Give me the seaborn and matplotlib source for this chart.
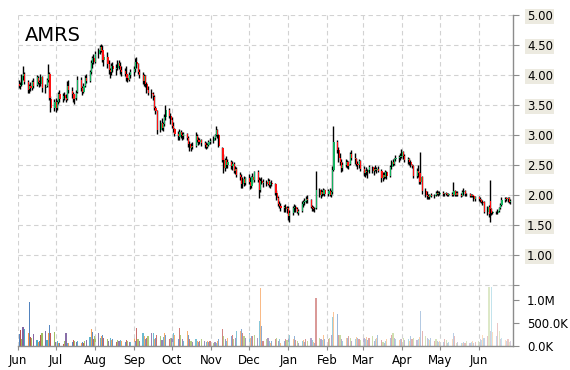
import numpy as np
import pandas as pd
import matplotlib
matplotlib.use("Agg")
import matplotlib.pyplot as plt
import matplotlib.dates as mdates
from matplotlib.ticker import FixedLocator, FixedFormatter
import seaborn as sns

ticker = "AMRS"

# daily OHLC (trading days from 2014-06-02)
opens = [
    # Jun
    3.85,3.82,3.84,3.98,4.02,3.88,3.76,3.82,3.78,3.88,3.84,3.95,3.88,3.85,3.96,3.78,3.82,3.92,4.02,3.60,3.45,
    # Jul
    3.55,3.45,3.55,3.68,3.60,3.66,3.62,3.60,3.82,3.74,3.68,3.60,3.62,3.72,3.92,3.78,3.72,3.82,3.95,3.90,4.05,4.20,4.28,
    # Aug
    4.22,4.35,4.40,4.46,4.42,4.25,4.30,4.18,4.08,4.05,4.15,4.10,4.12,4.20,4.15,4.08,4.06,4.02,3.95,3.92,4.00,
    # Sep
    4.05,4.10,4.22,4.18,4.05,4.00,3.90,3.98,3.85,3.75,3.70,3.68,3.64,3.45,3.40,3.08,3.20,3.12,3.18,3.30,3.42,3.32,
    # Oct
    3.25,3.15,3.10,3.02,2.96,3.05,3.00,2.98,3.02,2.95,2.85,2.78,2.82,2.82,2.98,2.92,2.88,2.92,2.86,2.84,2.80,2.84,2.88,
    # Nov
    2.90,2.95,3.00,3.08,3.00,2.78,2.58,2.45,2.58,2.50,2.55,2.48,2.52,2.40,2.44,2.34,2.30,2.18,2.26,2.20,
    # Dec
    2.28,2.22,2.15,2.30,2.25,2.38,2.25,2.08,2.24,2.20,2.22,2.18,2.24,2.16,2.20,2.18,2.04,1.95,1.85,1.82,1.78,1.80,1.76,
    # Jan
    1.78,1.65,1.70,1.78,1.80,1.76,1.70,1.74,1.85,1.88,1.90,1.94,1.92,1.80,1.78,1.76,1.78,2.08,2.00,2.05,2.02,2.08,
    # Feb
    2.02,2.06,2.00,2.05,2.42,2.88,2.75,2.62,2.55,2.45,2.50,2.55,2.48,2.52,2.68,2.62,2.60,2.52,2.50,2.56,
    # Mar
    2.44,2.36,2.40,2.38,2.42,2.46,2.40,2.44,2.42,2.44,2.40,2.28,2.34,2.30,2.38,2.32,2.46,2.55,2.52,2.60,2.62,2.64,
    # Apr
    2.65,2.72,2.65,2.58,2.60,2.55,2.50,2.48,2.32,2.40,2.36,2.22,2.30,2.06,2.00,1.98,1.96,2.00,1.98,2.00,2.04,2.02,
    # May
    2.02,2.04,2.01,2.03,2.02,2.00,2.02,2.00,2.06,2.00,2.04,2.00,1.99,2.05,2.06,2.01,2.02,1.99,2.00,1.98,1.93,
    # Jun
    1.96,1.94,1.91,1.88,1.88,1.72,1.80,1.90,1.76,1.70,1.71,1.70,1.74,1.78,1.84,1.92,1.94,1.93,1.95,1.88,
]
highs = [
    3.92,3.88,4.02,4.15,4.05,3.92,3.85,3.88,3.92,3.95,4.00,3.98,3.92,4.02,3.98,3.85,3.95,4.18,4.05,3.65,3.60,
    3.62,3.58,3.72,3.75,3.70,3.72,3.68,3.90,3.92,3.80,3.72,3.68,3.75,3.98,3.96,3.82,3.86,4.00,4.02,4.08,4.25,4.32,4.35,
    4.40,4.45,4.50,4.52,4.50,4.35,4.38,4.25,4.12,4.20,4.22,4.18,4.25,4.25,4.22,4.15,4.12,4.15,4.02,4.05,4.10,
    4.15,4.28,4.30,4.20,4.10,4.05,4.02,4.00,3.88,3.82,3.76,3.72,3.66,3.48,3.42,3.25,3.28,3.22,3.35,3.50,3.45,3.36,
    3.30,3.22,3.12,3.06,3.10,3.08,3.05,3.05,3.04,2.98,2.90,2.86,2.88,3.05,3.02,2.96,2.95,2.94,2.90,2.88,2.86,2.92,2.95,
    2.98,3.02,3.15,3.10,3.02,2.80,2.68,2.62,2.65,2.60,2.58,2.56,2.55,2.48,2.46,2.38,2.35,2.30,2.32,2.30,
    2.35,2.30,2.32,2.36,2.40,2.42,2.30,2.28,2.30,2.26,2.25,2.28,2.26,2.22,2.25,2.20,2.08,1.98,1.90,1.86,1.84,1.85,1.82,
    1.82,1.75,1.82,1.85,1.84,1.80,1.76,1.90,1.92,1.95,1.98,2.00,1.94,1.84,1.82,1.80,2.40,2.12,2.10,2.08,2.12,2.10,
    2.10,2.12,2.08,2.48,3.15,2.92,2.80,2.70,2.60,2.55,2.60,2.58,2.56,2.72,2.75,2.70,2.62,2.56,2.60,2.58,
    2.48,2.42,2.46,2.44,2.50,2.48,2.46,2.50,2.46,2.48,2.44,2.38,2.38,2.42,2.40,2.50,2.58,2.60,2.62,2.66,2.66,2.70,
    2.76,2.74,2.68,2.64,2.62,2.58,2.52,2.50,2.45,2.50,2.38,2.72,2.32,2.12,2.06,2.02,2.02,2.04,2.02,2.06,2.08,2.06,
    2.06,2.06,2.04,2.05,2.04,2.03,2.05,2.22,2.08,2.06,2.06,2.03,2.08,2.12,2.08,2.04,2.04,2.02,2.02,2.00,1.98,
    1.98,1.96,1.94,1.92,1.90,1.82,1.84,2.25,1.78,1.74,1.74,1.76,1.80,1.86,1.96,1.96,1.97,1.96,1.97,1.94,
]
lows = [
    3.78,3.76,3.82,3.92,3.85,3.70,3.70,3.74,3.75,3.78,3.82,3.85,3.80,3.82,3.72,3.70,3.80,3.88,3.58,3.38,3.40,
    3.38,3.42,3.52,3.55,3.55,3.58,3.55,3.58,3.70,3.62,3.55,3.52,3.58,3.70,3.74,3.66,3.70,3.80,3.86,3.88,4.02,4.12,4.18,
    4.20,4.28,4.35,4.38,4.22,4.15,4.12,4.02,3.95,4.00,4.05,4.00,4.08,4.10,4.02,3.98,3.98,3.90,3.88,3.90,3.95,
    3.98,4.05,4.12,4.02,3.95,3.85,3.82,3.80,3.70,3.66,3.62,3.58,3.42,3.35,3.02,3.05,3.08,3.06,3.15,3.25,3.28,3.18,
    3.12,3.05,2.98,2.92,2.92,2.95,2.92,2.94,2.92,2.80,2.74,2.74,2.76,2.80,2.88,2.84,2.85,2.82,2.78,2.76,2.78,2.82,2.85,
    2.86,2.92,2.98,2.95,2.80,2.55,2.36,2.40,2.45,2.45,2.44,2.42,2.36,2.35,2.30,2.25,2.12,2.12,2.15,2.16,
    2.18,2.10,2.12,2.20,2.22,2.22,1.95,2.05,2.18,2.14,2.15,2.16,2.14,2.12,2.15,2.00,1.92,1.82,1.78,1.74,1.72,1.72,1.70,
    1.58,1.55,1.66,1.72,1.72,1.70,1.66,1.72,1.80,1.84,1.86,1.86,1.78,1.74,1.74,1.72,1.76,1.96,1.95,1.98,2.00,1.98,
    1.98,1.98,1.96,2.02,2.40,2.70,2.55,2.50,2.38,2.40,2.46,2.45,2.44,2.50,2.58,2.52,2.48,2.44,2.45,2.40,
    2.32,2.30,2.34,2.28,2.36,2.36,2.34,2.40,2.36,2.38,2.22,2.24,2.26,2.28,2.26,2.30,2.44,2.48,2.50,2.56,2.55,2.58,
    2.62,2.60,2.55,2.52,2.50,2.46,2.45,2.28,2.28,2.30,2.18,2.18,2.02,1.96,1.94,1.94,1.94,1.96,1.95,1.98,2.00,1.98,
    2.00,1.99,1.99,2.00,1.99,1.98,1.98,1.98,1.98,1.98,1.98,1.97,1.98,2.00,1.99,1.98,1.97,1.96,1.96,1.90,1.90,
    1.90,1.89,1.86,1.84,1.70,1.66,1.64,1.55,1.66,1.68,1.68,1.68,1.72,1.76,1.82,1.88,1.90,1.88,1.86,1.85,
]
closes = [
    3.82,3.84,3.98,4.02,3.88,3.75,3.82,3.78,3.88,3.82,3.96,3.88,3.86,3.96,3.78,3.80,3.92,4.02,3.62,3.45,3.55,
    3.45,3.55,3.68,3.60,3.65,3.62,3.58,3.82,3.75,3.68,3.60,3.62,3.70,3.92,3.78,3.72,3.82,3.95,3.90,4.05,4.20,4.28,4.22,
    4.35,4.42,4.46,4.40,4.25,4.30,4.18,4.08,4.05,4.15,4.10,4.12,4.20,4.15,4.08,4.05,4.02,3.95,3.92,4.00,4.05,
    4.10,4.22,4.18,4.05,4.00,3.90,3.98,3.85,3.75,3.70,3.68,3.65,3.45,3.40,3.08,3.20,3.12,3.18,3.30,3.42,3.32,3.25,
    3.15,3.10,3.02,2.98,3.05,3.00,2.98,3.02,2.95,2.85,2.78,2.82,2.80,2.98,2.92,2.88,2.92,2.86,2.84,2.80,2.84,2.88,2.90,
    2.95,3.00,3.08,3.00,2.82,2.58,2.45,2.58,2.50,2.55,2.48,2.52,2.40,2.44,2.34,2.30,2.18,2.26,2.20,2.28,
    2.22,2.15,2.30,2.25,2.38,2.25,2.08,2.24,2.20,2.22,2.18,2.24,2.16,2.20,2.18,2.04,1.95,1.85,1.82,1.78,1.80,1.76,1.78,
    1.65,1.70,1.78,1.80,1.76,1.72,1.74,1.85,1.88,1.90,1.94,1.92,1.80,1.78,1.76,1.78,2.08,2.00,2.05,2.02,2.08,2.02,
    2.06,2.00,2.05,2.42,2.88,2.75,2.62,2.55,2.45,2.50,2.55,2.48,2.52,2.68,2.62,2.60,2.52,2.50,2.56,2.44,
    2.36,2.40,2.38,2.42,2.46,2.40,2.44,2.42,2.44,2.40,2.28,2.34,2.30,2.38,2.32,2.46,2.55,2.52,2.60,2.62,2.64,2.65,
    2.72,2.65,2.58,2.60,2.55,2.50,2.48,2.32,2.40,2.36,2.22,2.30,2.06,2.00,1.98,1.96,2.00,1.98,2.00,2.04,2.02,2.04,
    2.04,2.01,2.03,2.02,2.00,2.02,2.00,2.06,2.00,2.04,2.00,1.99,2.05,2.06,2.01,2.02,1.99,2.00,1.98,1.93,1.96,
    1.94,1.91,1.88,1.86,1.72,1.80,1.68,1.76,1.70,1.71,1.72,1.74,1.78,1.84,1.92,1.94,1.93,1.95,1.88,1.90,
]
# daily volume, thousands of shares
volumes_k = [
    260,350,150,420,380,280,960,200,170,260,120,80,110,230,280,330,130,280,450,290,310,
    90,110,70,60,40,100,275,70,60,80,130,110,90,100,60,80,70,100,120,200,360,300,150,
    220,290,180,210,250,180,150,100,180,120,150,90,130,110,130,100,90,130,110,90,80,
    250,100,400,150,110,290,220,150,180,220,290,290,150,180,250,220,130,200,280,240,160,170,
    180,290,250,150,400,250,150,110,330,250,150,110,80,150,110,90,110,150,110,80,110,90,110,
    70,80,70,110,150,360,220,150,110,180,220,250,150,180,330,330,360,290,220,180,
    290,180,220,220,250,180,550,1270,430,110,150,180,110,70,110,150,180,110,150,70,110,150,130,
    180,250,150,220,120,100,70,110,130,90,150,100,180,120,90,60,1050,180,150,120,250,150,
    150,180,250,640,750,700,250,250,150,110,180,180,220,180,110,150,200,180,150,130,
    180,150,200,130,180,220,110,150,180,250,130,90,70,110,150,180,250,280,180,150,130,150,
    150,180,130,150,110,220,150,180,130,150,200,760,330,220,180,150,130,180,110,150,110,90,
    110,90,150,130,70,90,150,290,220,70,90,70,70,90,70,110,70,90,110,70,90,
    110,150,130,250,180,220,1280,320,1280,300,220,500,330,150,180,130,110,150,90,110,
]
price_ticks = [0.5, 1.0, 1.5, 2.0, 2.5, 3.0, 3.5, 4.0, 4.5, 5.0]
price_labels = ["", "1.00", "1.50", "2.00", "2.50", "3.00", "3.50", "4.00", "4.50", "5.00"]
vol_ticks = [0, 500000, 1000000]
vol_labels = ["0.0K", "500.0K", "1.0M"]

n = min(len(opens), len(highs), len(lows), len(closes), len(volumes_k))
df = pd.DataFrame({
    "date": pd.bdate_range("2014-06-02", periods=n),
    "open": opens[:n], "high": highs[:n], "low": lows[:n], "close": closes[:n],
    "volume": np.array(volumes_k[:n]) * 1000.0,
})

sns.set_theme(style="white")
plt.rcParams["font.family"] = ["DejaVu Sans"]

W, H = 570, 370
fig = plt.figure(figsize=(W / 100, H / 100), dpi=100)
L, R, T, B = 18, 513, 15, 346
ax = fig.add_axes([L / W, (H - B) / H, (R - L) / W, (B - T) / H])

x = mdates.date2num(df["date"])
up = df["close"] >= df["open"]
body_col = np.where(up, "#12b25f", "#ff1010")

grid_kw = dict(color="#d2d2d2", linestyle=(0, (4, 3)), linewidth=0.8)

ax.set_ylim(5.0 - (B - T) / 60.0, 5.0)
ax.set_xlim(mdates.date2num(pd.Timestamp("2014-06-01")), mdates.date2num(pd.Timestamp("2015-06-28")))

# volume twin axis
ax2 = ax.twinx()
ax2.set_ylim(0, (B - T) / 46.0 * 1e6)
ncol = len(df)
pal = sns.color_palette(["#4f81bd", "#c0504d", "#9bbb59", "#8064a2", "#4bacc6", "#f79646"])
alphas = np.linspace(1.0, 0.3, ncol)
vcols = [(*pal[i % len(pal)], alphas[i]) for i in range(ncol)]
ax2.bar(x, df["volume"], width=0.9, color=vcols, linewidth=0, zorder=2)

# candles on price axis, drawn above the volume axis
ax.set_zorder(ax2.get_zorder() + 1)
ax.patch.set_visible(False)
ax.vlines(x - 0.3, df["low"], df["high"], color="black", linewidth=1.0, zorder=3)
ax.bar(x + 0.3, (df["close"] - df["open"]).abs().clip(lower=0.012), bottom=np.minimum(df["open"], df["close"]),
       width=0.9, color=body_col, linewidth=0, zorder=4)

ax.yaxis.set_major_locator(FixedLocator(price_ticks))
ax.yaxis.set_major_formatter(FixedFormatter(price_labels))
ax.yaxis.tick_right()
ax.xaxis.set_major_locator(mdates.MonthLocator())
ax.xaxis.set_major_formatter(mdates.DateFormatter("%b"))
ax.grid(True, axis="both", **grid_kw)
ax.set_axisbelow(True)

for s in ["left", "top"]:
    ax.spines[s].set_visible(False)
for s in ["right", "bottom"]:
    ax.spines[s].set_color("#8c8c8c")
    ax.spines[s].set_linewidth(1.0)
for s in ax2.spines.values():
    s.set_visible(False)

ax.tick_params(axis="y", which="both", direction="out", length=4, width=0.8, color="#8c8c8c",
               labelsize=8.5, pad=6, right=True, left=False, labelright=True, labelleft=False, labelcolor="black")
ax.tick_params(axis="x", direction="out", length=3, width=0.8, color="#8c8c8c", labelsize=8.5, pad=3,
               labelcolor="black", bottom=True)
for lbl in ax.get_yticklabels():
    if lbl.get_text():
        lbl.set_bbox(dict(facecolor="#eceae0", edgecolor="none", pad=1.0))

ax2.yaxis.set_major_locator(FixedLocator(vol_ticks))
ax2.yaxis.set_major_formatter(FixedFormatter(vol_labels))
ax2.tick_params(axis="y", direction="out", length=4, width=0.8, color="#8c8c8c", labelsize=8.5, pad=6,
                right=True, labelright=True, labelcolor="black")
ax2.grid(False)

ax.text((25 - L) / (R - L), (B - 41) / (B - T), ticker, transform=ax.transAxes, fontsize=14,
        va="baseline", ha="left", color="black", zorder=10)

fig.savefig("out.png", dpi=100)
